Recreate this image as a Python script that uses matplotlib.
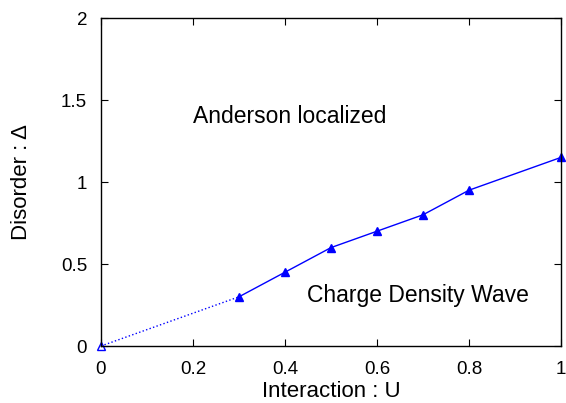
import matplotlib
matplotlib.use("Agg")
import matplotlib.pyplot as plt

plt.rcParams['font.family'] = ['Liberation Sans', 'DejaVu Sans']

# phase boundary: extrapolated segment and computed points
u_extrap = [0.0, 0.3]
d_extrap = [0.0, 0.3]
u_calc = [0.3, 0.4, 0.5, 0.6, 0.7, 0.8, 1.0]
d_calc = [0.3, 0.45, 0.6, 0.7, 0.8, 0.95, 1.15]

xticks = [0, 0.2, 0.4, 0.6, 0.8, 1]
xticklabels = ['0', '0.2', '0.4', '0.6', '0.8', '1']
yticks = [0, 0.5, 1, 1.5, 2]
yticklabels = ['0', '0.5', '1', '1.5', '2']

fig = plt.figure(figsize=(5.66, 4.03), dpi=100)
ax = fig.add_axes([0.1784, 0.1414, 0.8127, 0.8139])

ax.plot(u_extrap, d_extrap, ':', color='blue', lw=1)
ax.plot(u_calc, d_calc, '-', color='blue', lw=1, marker='^', ms=5.5,
        clip_on=False)
ax.plot([0], [0], '^', color='blue', mfc='none', ms=5.5, mew=1, clip_on=False)

ax.set_xlim(0, 1)
ax.set_ylim(0, 2)
ax.set_xticks(xticks)
ax.set_xticklabels(xticklabels)
ax.set_yticks(yticks)
ax.set_yticklabels(yticklabels)
ax.tick_params(direction='in', length=5, width=0.8, top=True, right=True,
               labelsize=13.5)
ax.tick_params(axis='x', pad=11)
ax.tick_params(axis='y', pad=10)
for s in ax.spines.values():
    s.set_linewidth(1)

ax.set_xlabel('Interaction : U', fontsize=16, labelpad=2)
ax.set_ylabel('Disorder : Δ', fontsize=16, labelpad=21)

ax.text(0.41, 1.40, 'Anderson localized', fontsize=16.5, ha='center', va='center')
ax.text(0.689, 0.31, 'Charge Density Wave', fontsize=16.5, ha='center', va='center')

fig.savefig('out.png', dpi=100)
